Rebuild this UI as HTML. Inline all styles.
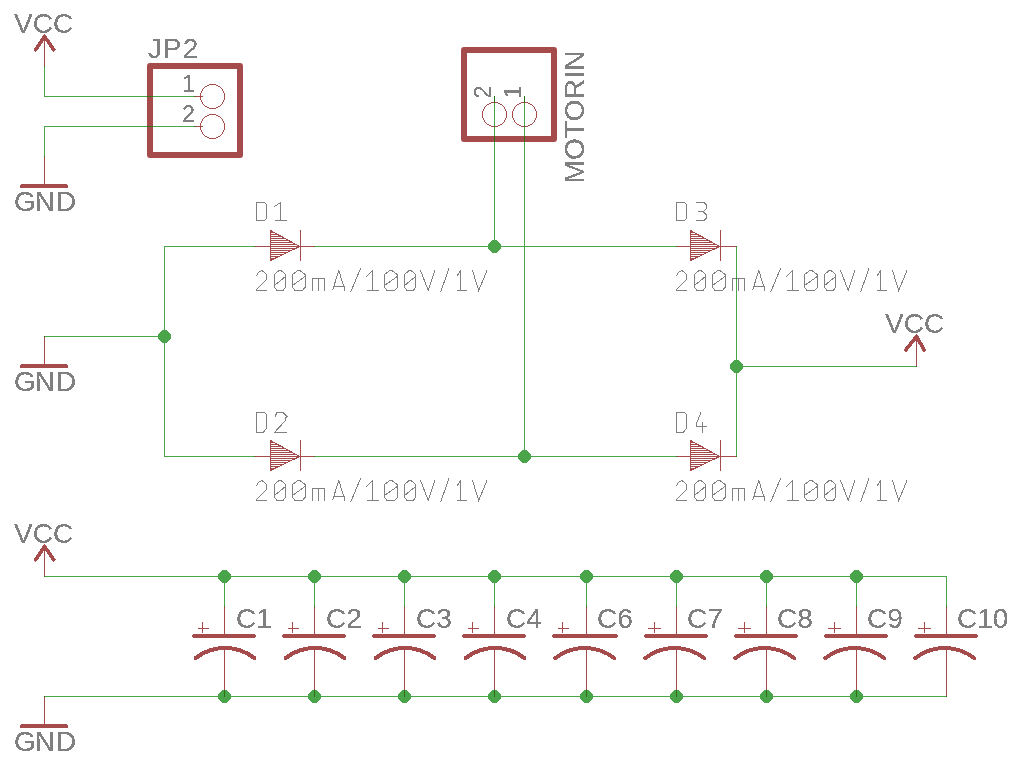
<!DOCTYPE html>
<html><head><meta charset="utf-8"><title>schematic</title>
<style>html,body{margin:0;padding:0;background:#fff;width:1020px;height:760px;overflow:hidden}
svg{display:block;font-family:"Liberation Sans",sans-serif}</style></head>
<body>
<svg width="1020" height="760" viewBox="0 0 1020 760">
<defs><filter id="th" filterUnits="userSpaceOnUse" x="0" y="0" width="1020" height="760"><feComponentTransfer><feFuncA type="discrete" tableValues="0 0 1 1 1"/></feComponentTransfer></filter></defs>
<rect width="1020" height="760" fill="#ffffff"/>
<g shape-rendering="crispEdges">
<rect x="194" y="96" width="9" height="1" fill="#a54b4b"/>
<rect x="194" y="126" width="9" height="1" fill="#a54b4b"/>
</g>
<rect x="44" y="34" width="1" height="33" fill="#a54b4b"/>
<polyline points="35.75,49.8 44.5,36.5 53.9,49.8" fill="none" stroke="#a54b4b" stroke-width="3.6" stroke-linecap="round" stroke-linejoin="round" shape-rendering="crispEdges"/>
<rect x="916" y="334" width="1" height="33" fill="#a54b4b"/>
<polyline points="905.8,349.8 916.5,336.5 924.1,349.8" fill="none" stroke="#a54b4b" stroke-width="3.6" stroke-linecap="round" stroke-linejoin="round" shape-rendering="crispEdges"/>
<rect x="44" y="544" width="1" height="33" fill="#a54b4b"/>
<polyline points="35.75,559.8 44.5,546.5 53.9,559.8" fill="none" stroke="#a54b4b" stroke-width="3.6" stroke-linecap="round" stroke-linejoin="round" shape-rendering="crispEdges"/>
<rect x="44" y="156" width="1" height="31" fill="#a54b4b"/>
<line x1="21.4" y1="186.1" x2="66.4" y2="186.1" stroke="#a54b4b" stroke-width="3.6" stroke-linecap="round" shape-rendering="crispEdges"/>
<rect x="44" y="336" width="1" height="31" fill="#a54b4b"/>
<line x1="21.4" y1="366.1" x2="66.4" y2="366.1" stroke="#a54b4b" stroke-width="3.6" stroke-linecap="round" shape-rendering="crispEdges"/>
<rect x="44" y="696" width="1" height="31" fill="#a54b4b"/>
<line x1="21.4" y1="726.1" x2="66.4" y2="726.1" stroke="#a54b4b" stroke-width="3.6" stroke-linecap="round" shape-rendering="crispEdges"/>
<rect x="150" y="66" width="90" height="89" fill="none" stroke="#a54b4b" stroke-width="6" stroke-linejoin="round"/>
<rect x="464" y="50" width="90" height="89" fill="none" stroke="#a54b4b" stroke-width="6" stroke-linejoin="round"/>
<circle cx="212.5" cy="96.5" r="12" fill="none" stroke="#a54b4b" stroke-width="1" shape-rendering="crispEdges"/>
<circle cx="212.5" cy="126.5" r="12" fill="none" stroke="#a54b4b" stroke-width="1" shape-rendering="crispEdges"/>
<circle cx="494.5" cy="114.5" r="12" fill="none" stroke="#a54b4b" stroke-width="1" shape-rendering="crispEdges"/>
<circle cx="524.5" cy="114.5" r="12" fill="none" stroke="#a54b4b" stroke-width="1" shape-rendering="crispEdges"/>
<g shape-rendering="crispEdges">
<rect x="494" y="96" width="1" height="7" fill="#a54b4b"/>
<rect x="524" y="96" width="1" height="7" fill="#a54b4b"/>
<rect x="254" y="246" width="16" height="1" fill="#a54b4b"/>
<rect x="301" y="246" width="14" height="1" fill="#a54b4b"/>
<rect x="300" y="230" width="1" height="31" fill="#a54b4b"/>
<rect x="270" y="230" width="1" height="31" fill="#a54b4b"/>
<rect x="270" y="232" width="4" height="1" fill="#a54b4b"/>
<rect x="270" y="234" width="8" height="1" fill="#a54b4b"/>
<rect x="270" y="236" width="12" height="1" fill="#a54b4b"/>
<rect x="270" y="238" width="15" height="1" fill="#a54b4b"/>
<rect x="270" y="240" width="19" height="1" fill="#a54b4b"/>
<rect x="270" y="242" width="23" height="1" fill="#a54b4b"/>
<rect x="270" y="244" width="27" height="1" fill="#a54b4b"/>
<rect x="270" y="246" width="29" height="1" fill="#a54b4b"/>
<rect x="270" y="248" width="25" height="1" fill="#a54b4b"/>
<rect x="270" y="250" width="21" height="1" fill="#a54b4b"/>
<rect x="270" y="252" width="17" height="1" fill="#a54b4b"/>
<rect x="270" y="254" width="14" height="1" fill="#a54b4b"/>
<rect x="270" y="256" width="10" height="1" fill="#a54b4b"/>
<rect x="270" y="258" width="6" height="1" fill="#a54b4b"/>
<rect x="270" y="260" width="2" height="1" fill="#a54b4b"/>
<polyline points="270.5,230.5 299.5,246.5 270.5,260.5" fill="none" stroke="#a54b4b" stroke-width="1.1"/>
<rect x="254" y="456" width="16" height="1" fill="#a54b4b"/>
<rect x="301" y="456" width="14" height="1" fill="#a54b4b"/>
<rect x="300" y="440" width="1" height="31" fill="#a54b4b"/>
<rect x="270" y="440" width="1" height="31" fill="#a54b4b"/>
<rect x="270" y="442" width="4" height="1" fill="#a54b4b"/>
<rect x="270" y="444" width="8" height="1" fill="#a54b4b"/>
<rect x="270" y="446" width="12" height="1" fill="#a54b4b"/>
<rect x="270" y="448" width="15" height="1" fill="#a54b4b"/>
<rect x="270" y="450" width="19" height="1" fill="#a54b4b"/>
<rect x="270" y="452" width="23" height="1" fill="#a54b4b"/>
<rect x="270" y="454" width="27" height="1" fill="#a54b4b"/>
<rect x="270" y="456" width="29" height="1" fill="#a54b4b"/>
<rect x="270" y="458" width="25" height="1" fill="#a54b4b"/>
<rect x="270" y="460" width="21" height="1" fill="#a54b4b"/>
<rect x="270" y="462" width="17" height="1" fill="#a54b4b"/>
<rect x="270" y="464" width="14" height="1" fill="#a54b4b"/>
<rect x="270" y="466" width="10" height="1" fill="#a54b4b"/>
<rect x="270" y="468" width="6" height="1" fill="#a54b4b"/>
<rect x="270" y="470" width="2" height="1" fill="#a54b4b"/>
<polyline points="270.5,440.5 299.5,456.5 270.5,470.5" fill="none" stroke="#a54b4b" stroke-width="1.1"/>
<rect x="676" y="246" width="14" height="1" fill="#a54b4b"/>
<rect x="721" y="246" width="16" height="1" fill="#a54b4b"/>
<rect x="720" y="230" width="1" height="31" fill="#a54b4b"/>
<rect x="690" y="230" width="1" height="31" fill="#a54b4b"/>
<rect x="690" y="232" width="4" height="1" fill="#a54b4b"/>
<rect x="690" y="234" width="8" height="1" fill="#a54b4b"/>
<rect x="690" y="236" width="12" height="1" fill="#a54b4b"/>
<rect x="690" y="238" width="15" height="1" fill="#a54b4b"/>
<rect x="690" y="240" width="19" height="1" fill="#a54b4b"/>
<rect x="690" y="242" width="23" height="1" fill="#a54b4b"/>
<rect x="690" y="244" width="27" height="1" fill="#a54b4b"/>
<rect x="690" y="246" width="29" height="1" fill="#a54b4b"/>
<rect x="690" y="248" width="25" height="1" fill="#a54b4b"/>
<rect x="690" y="250" width="21" height="1" fill="#a54b4b"/>
<rect x="690" y="252" width="17" height="1" fill="#a54b4b"/>
<rect x="690" y="254" width="14" height="1" fill="#a54b4b"/>
<rect x="690" y="256" width="10" height="1" fill="#a54b4b"/>
<rect x="690" y="258" width="6" height="1" fill="#a54b4b"/>
<rect x="690" y="260" width="2" height="1" fill="#a54b4b"/>
<polyline points="690.5,230.5 719.5,246.5 690.5,260.5" fill="none" stroke="#a54b4b" stroke-width="1.1"/>
<rect x="676" y="456" width="14" height="1" fill="#a54b4b"/>
<rect x="721" y="456" width="16" height="1" fill="#a54b4b"/>
<rect x="720" y="440" width="1" height="31" fill="#a54b4b"/>
<rect x="690" y="440" width="1" height="31" fill="#a54b4b"/>
<rect x="690" y="442" width="4" height="1" fill="#a54b4b"/>
<rect x="690" y="444" width="8" height="1" fill="#a54b4b"/>
<rect x="690" y="446" width="12" height="1" fill="#a54b4b"/>
<rect x="690" y="448" width="15" height="1" fill="#a54b4b"/>
<rect x="690" y="450" width="19" height="1" fill="#a54b4b"/>
<rect x="690" y="452" width="23" height="1" fill="#a54b4b"/>
<rect x="690" y="454" width="27" height="1" fill="#a54b4b"/>
<rect x="690" y="456" width="29" height="1" fill="#a54b4b"/>
<rect x="690" y="458" width="25" height="1" fill="#a54b4b"/>
<rect x="690" y="460" width="21" height="1" fill="#a54b4b"/>
<rect x="690" y="462" width="17" height="1" fill="#a54b4b"/>
<rect x="690" y="464" width="14" height="1" fill="#a54b4b"/>
<rect x="690" y="466" width="10" height="1" fill="#a54b4b"/>
<rect x="690" y="468" width="6" height="1" fill="#a54b4b"/>
<rect x="690" y="470" width="2" height="1" fill="#a54b4b"/>
<polyline points="690.5,440.5 719.5,456.5 690.5,470.5" fill="none" stroke="#a54b4b" stroke-width="1.1"/>
</g>
<rect x="224" y="606" width="1" height="31" fill="#a54b4b"/>
<line x1="193.8" y1="636" x2="254.0" y2="636" stroke="#a54b4b" stroke-width="3.6" stroke-linecap="round" shape-rendering="crispEdges"/>
<path d="M195.53,658.11 A48,48 0 0 1 254.47,658.11" fill="none" stroke="#a54b4b" stroke-width="4" stroke-linecap="round" shape-rendering="crispEdges"/>
<g shape-rendering="crispEdges">
<rect x="198" y="628" width="11" height="1" fill="#a54b4b"/>
<rect x="202" y="622" width="1" height="11" fill="#a54b4b"/>
</g>
<rect x="314" y="606" width="1" height="31" fill="#a54b4b"/>
<line x1="283.8" y1="636" x2="344.0" y2="636" stroke="#a54b4b" stroke-width="3.6" stroke-linecap="round" shape-rendering="crispEdges"/>
<path d="M285.53,658.11 A48,48 0 0 1 344.47,658.11" fill="none" stroke="#a54b4b" stroke-width="4" stroke-linecap="round" shape-rendering="crispEdges"/>
<g shape-rendering="crispEdges">
<rect x="288" y="628" width="11" height="1" fill="#a54b4b"/>
<rect x="292" y="622" width="1" height="11" fill="#a54b4b"/>
</g>
<rect x="404" y="606" width="1" height="31" fill="#a54b4b"/>
<line x1="373.8" y1="636" x2="434.0" y2="636" stroke="#a54b4b" stroke-width="3.6" stroke-linecap="round" shape-rendering="crispEdges"/>
<path d="M375.53,658.11 A48,48 0 0 1 434.47,658.11" fill="none" stroke="#a54b4b" stroke-width="4" stroke-linecap="round" shape-rendering="crispEdges"/>
<g shape-rendering="crispEdges">
<rect x="378" y="628" width="11" height="1" fill="#a54b4b"/>
<rect x="382" y="622" width="1" height="11" fill="#a54b4b"/>
</g>
<rect x="494" y="606" width="1" height="31" fill="#a54b4b"/>
<line x1="463.8" y1="636" x2="524.0" y2="636" stroke="#a54b4b" stroke-width="3.6" stroke-linecap="round" shape-rendering="crispEdges"/>
<path d="M465.53,658.11 A48,48 0 0 1 524.47,658.11" fill="none" stroke="#a54b4b" stroke-width="4" stroke-linecap="round" shape-rendering="crispEdges"/>
<g shape-rendering="crispEdges">
<rect x="468" y="628" width="11" height="1" fill="#a54b4b"/>
<rect x="472" y="622" width="1" height="11" fill="#a54b4b"/>
</g>
<rect x="586" y="606" width="1" height="31" fill="#a54b4b"/>
<line x1="553.8" y1="636" x2="616.0" y2="636" stroke="#a54b4b" stroke-width="3.6" stroke-linecap="round" shape-rendering="crispEdges"/>
<path d="M555.23,658.11 A48,48 0 0 1 614.17,658.11" fill="none" stroke="#a54b4b" stroke-width="4" stroke-linecap="round" shape-rendering="crispEdges"/>
<g shape-rendering="crispEdges">
<rect x="558" y="628" width="11" height="1" fill="#a54b4b"/>
<rect x="562" y="622" width="1" height="11" fill="#a54b4b"/>
</g>
<rect x="676" y="606" width="1" height="31" fill="#a54b4b"/>
<line x1="645.8" y1="636" x2="706.0" y2="636" stroke="#a54b4b" stroke-width="3.6" stroke-linecap="round" shape-rendering="crispEdges"/>
<path d="M645.23,658.11 A48,48 0 0 1 704.17,658.11" fill="none" stroke="#a54b4b" stroke-width="4" stroke-linecap="round" shape-rendering="crispEdges"/>
<g shape-rendering="crispEdges">
<rect x="648" y="628" width="13" height="1" fill="#a54b4b"/>
<rect x="654" y="622" width="1" height="11" fill="#a54b4b"/>
</g>
<rect x="766" y="606" width="1" height="31" fill="#a54b4b"/>
<line x1="735.8" y1="636" x2="796.0" y2="636" stroke="#a54b4b" stroke-width="3.6" stroke-linecap="round" shape-rendering="crispEdges"/>
<path d="M735.23,658.11 A48,48 0 0 1 794.17,658.11" fill="none" stroke="#a54b4b" stroke-width="4" stroke-linecap="round" shape-rendering="crispEdges"/>
<g shape-rendering="crispEdges">
<rect x="738" y="628" width="13" height="1" fill="#a54b4b"/>
<rect x="744" y="622" width="1" height="11" fill="#a54b4b"/>
</g>
<rect x="856" y="606" width="1" height="31" fill="#a54b4b"/>
<line x1="825.8" y1="636" x2="886.0" y2="636" stroke="#a54b4b" stroke-width="3.6" stroke-linecap="round" shape-rendering="crispEdges"/>
<path d="M825.23,658.11 A48,48 0 0 1 884.17,658.11" fill="none" stroke="#a54b4b" stroke-width="4" stroke-linecap="round" shape-rendering="crispEdges"/>
<g shape-rendering="crispEdges">
<rect x="828" y="628" width="13" height="1" fill="#a54b4b"/>
<rect x="834" y="622" width="1" height="11" fill="#a54b4b"/>
</g>
<rect x="946" y="606" width="1" height="31" fill="#a54b4b"/>
<line x1="915.8" y1="636" x2="976.0" y2="636" stroke="#a54b4b" stroke-width="3.6" stroke-linecap="round" shape-rendering="crispEdges"/>
<path d="M915.23,658.11 A48,48 0 0 1 974.17,658.11" fill="none" stroke="#a54b4b" stroke-width="4" stroke-linecap="round" shape-rendering="crispEdges"/>
<g shape-rendering="crispEdges">
<rect x="918" y="628" width="13" height="1" fill="#a54b4b"/>
<rect x="924" y="622" width="1" height="11" fill="#a54b4b"/>
</g>
<g shape-rendering="crispEdges">
<rect x="224" y="648" width="1" height="49" fill="#a54b4b"/>
<rect x="314" y="648" width="1" height="49" fill="#a54b4b"/>
<rect x="404" y="648" width="1" height="49" fill="#a54b4b"/>
<rect x="494" y="648" width="1" height="49" fill="#a54b4b"/>
<rect x="586" y="648" width="1" height="49" fill="#a54b4b"/>
<rect x="676" y="648" width="1" height="49" fill="#a54b4b"/>
<rect x="766" y="648" width="1" height="49" fill="#a54b4b"/>
<rect x="856" y="648" width="1" height="49" fill="#a54b4b"/>
<rect x="946" y="648" width="1" height="49" fill="#a54b4b"/>
</g>
<g fill="none" stroke="#808080" stroke-width="1" shape-rendering="crispEdges">
<polyline points="256.50,276.50 257.50,273.50 259.50,271.50 262.00,270.50 266.50,274.50 266.50,279.50 256.50,289.50 256.50,290.50 267.00,290.50"/>
<polyline points="279.00,270.50 281.00,270.50 285.50,274.50 285.50,287.50 283.00,290.50 277.00,290.50 274.50,287.50 274.50,274.50 279.00,270.50"/>
<polyline points="274.50,285.50 285.50,276.50"/>
<polyline points="297.75,270.50 299.75,270.50 305.00,274.50 305.00,287.50 302.50,290.50 295.00,290.50 292.50,287.50 292.50,274.50 297.75,270.50"/>
<polyline points="292.50,285.50 305.00,276.50"/>
<polyline points="312.50,290.50 312.50,278.50 324.50,278.50 324.50,290.50"/>
<polyline points="318.50,278.50 318.50,290.50"/>
<polyline points="332.50,290.50 338.80,270.50 345.00,290.50"/>
<polyline points="333.50,286.50 344.50,286.50"/>
<polyline points="350.50,292.50 360.50,268.50"/>
<polyline points="366.50,276.50 372.90,270.50 372.90,290.50"/>
<polyline points="366.50,290.50 379.00,290.50"/>
<polyline points="389.90,270.50 391.90,270.50 397.30,274.50 397.30,287.50 394.80,290.50 387.00,290.50 384.50,287.50 384.50,274.50 389.90,270.50"/>
<polyline points="384.50,285.50 397.30,276.50"/>
<polyline points="409.10,270.50 411.10,270.50 415.70,274.50 415.70,287.50 413.20,290.50 407.00,290.50 404.50,287.50 404.50,274.50 409.10,270.50"/>
<polyline points="404.50,285.50 415.70,276.50"/>
<polyline points="420.50,270.50 428.30,290.50 434.80,270.50"/>
<polyline points="440.50,292.50 448.90,268.50"/>
<polyline points="456.50,276.50 460.80,270.50 460.80,290.50"/>
<polyline points="456.50,290.50 467.10,290.50"/>
<polyline points="472.50,270.50 478.70,290.50 487.00,270.50"/>
<polyline points="676.50,276.50 677.50,273.50 679.50,271.50 682.00,270.50 686.50,274.50 686.50,279.50 676.50,289.50 676.50,290.50 687.00,290.50"/>
<polyline points="699.00,270.50 701.00,270.50 705.50,274.50 705.50,287.50 703.00,290.50 697.00,290.50 694.50,287.50 694.50,274.50 699.00,270.50"/>
<polyline points="694.50,285.50 705.50,276.50"/>
<polyline points="717.75,270.50 719.75,270.50 725.00,274.50 725.00,287.50 722.50,290.50 715.00,290.50 712.50,287.50 712.50,274.50 717.75,270.50"/>
<polyline points="712.50,285.50 725.00,276.50"/>
<polyline points="732.50,290.50 732.50,278.50 744.50,278.50 744.50,290.50"/>
<polyline points="738.50,278.50 738.50,290.50"/>
<polyline points="752.50,290.50 758.80,270.50 765.00,290.50"/>
<polyline points="753.50,286.50 764.50,286.50"/>
<polyline points="770.50,292.50 780.50,268.50"/>
<polyline points="786.50,276.50 792.90,270.50 792.90,290.50"/>
<polyline points="786.50,290.50 799.00,290.50"/>
<polyline points="809.90,270.50 811.90,270.50 817.30,274.50 817.30,287.50 814.80,290.50 807.00,290.50 804.50,287.50 804.50,274.50 809.90,270.50"/>
<polyline points="804.50,285.50 817.30,276.50"/>
<polyline points="829.10,270.50 831.10,270.50 835.70,274.50 835.70,287.50 833.20,290.50 827.00,290.50 824.50,287.50 824.50,274.50 829.10,270.50"/>
<polyline points="824.50,285.50 835.70,276.50"/>
<polyline points="840.50,270.50 848.30,290.50 854.80,270.50"/>
<polyline points="860.50,292.50 868.90,268.50"/>
<polyline points="876.50,276.50 880.80,270.50 880.80,290.50"/>
<polyline points="876.50,290.50 887.10,290.50"/>
<polyline points="892.50,270.50 898.70,290.50 907.00,270.50"/>
<polyline points="256.50,486.50 257.50,483.50 259.50,481.50 262.00,480.50 266.50,484.50 266.50,489.50 256.50,499.50 256.50,500.50 267.00,500.50"/>
<polyline points="279.00,480.50 281.00,480.50 285.50,484.50 285.50,497.50 283.00,500.50 277.00,500.50 274.50,497.50 274.50,484.50 279.00,480.50"/>
<polyline points="274.50,495.50 285.50,486.50"/>
<polyline points="297.75,480.50 299.75,480.50 305.00,484.50 305.00,497.50 302.50,500.50 295.00,500.50 292.50,497.50 292.50,484.50 297.75,480.50"/>
<polyline points="292.50,495.50 305.00,486.50"/>
<polyline points="312.50,500.50 312.50,488.50 324.50,488.50 324.50,500.50"/>
<polyline points="318.50,488.50 318.50,500.50"/>
<polyline points="332.50,500.50 338.80,480.50 345.00,500.50"/>
<polyline points="333.50,496.50 344.50,496.50"/>
<polyline points="350.50,502.50 360.50,478.50"/>
<polyline points="366.50,486.50 372.90,480.50 372.90,500.50"/>
<polyline points="366.50,500.50 379.00,500.50"/>
<polyline points="389.90,480.50 391.90,480.50 397.30,484.50 397.30,497.50 394.80,500.50 387.00,500.50 384.50,497.50 384.50,484.50 389.90,480.50"/>
<polyline points="384.50,495.50 397.30,486.50"/>
<polyline points="409.10,480.50 411.10,480.50 415.70,484.50 415.70,497.50 413.20,500.50 407.00,500.50 404.50,497.50 404.50,484.50 409.10,480.50"/>
<polyline points="404.50,495.50 415.70,486.50"/>
<polyline points="420.50,480.50 428.30,500.50 434.80,480.50"/>
<polyline points="440.50,502.50 448.90,478.50"/>
<polyline points="456.50,486.50 460.80,480.50 460.80,500.50"/>
<polyline points="456.50,500.50 467.10,500.50"/>
<polyline points="472.50,480.50 478.70,500.50 487.00,480.50"/>
<polyline points="676.50,486.50 677.50,483.50 679.50,481.50 682.00,480.50 686.50,484.50 686.50,489.50 676.50,499.50 676.50,500.50 687.00,500.50"/>
<polyline points="699.00,480.50 701.00,480.50 705.50,484.50 705.50,497.50 703.00,500.50 697.00,500.50 694.50,497.50 694.50,484.50 699.00,480.50"/>
<polyline points="694.50,495.50 705.50,486.50"/>
<polyline points="717.75,480.50 719.75,480.50 725.00,484.50 725.00,497.50 722.50,500.50 715.00,500.50 712.50,497.50 712.50,484.50 717.75,480.50"/>
<polyline points="712.50,495.50 725.00,486.50"/>
<polyline points="732.50,500.50 732.50,488.50 744.50,488.50 744.50,500.50"/>
<polyline points="738.50,488.50 738.50,500.50"/>
<polyline points="752.50,500.50 758.80,480.50 765.00,500.50"/>
<polyline points="753.50,496.50 764.50,496.50"/>
<polyline points="770.50,502.50 780.50,478.50"/>
<polyline points="786.50,486.50 792.90,480.50 792.90,500.50"/>
<polyline points="786.50,500.50 799.00,500.50"/>
<polyline points="809.90,480.50 811.90,480.50 817.30,484.50 817.30,497.50 814.80,500.50 807.00,500.50 804.50,497.50 804.50,484.50 809.90,480.50"/>
<polyline points="804.50,495.50 817.30,486.50"/>
<polyline points="829.10,480.50 831.10,480.50 835.70,484.50 835.70,497.50 833.20,500.50 827.00,500.50 824.50,497.50 824.50,484.50 829.10,480.50"/>
<polyline points="824.50,495.50 835.70,486.50"/>
<polyline points="840.50,480.50 848.30,500.50 854.80,480.50"/>
<polyline points="860.50,502.50 868.90,478.50"/>
<polyline points="876.50,486.50 880.80,480.50 880.80,500.50"/>
<polyline points="876.50,500.50 887.10,500.50"/>
<polyline points="892.50,480.50 898.70,500.50 907.00,480.50"/>
<polyline points="256.50,220.50 256.50,202.50 264.50,202.50 266.50,204.50 266.50,218.50 264.50,220.50 256.50,220.50"/>
<polyline points="274.50,206.50 280.50,202.50 280.50,220.50"/>
<polyline points="274.50,220.50 286.50,220.50"/>
<polyline points="256.50,432.50 256.50,412.50 264.50,412.50 266.50,414.50 266.50,428.50 263.00,432.50 256.50,432.50"/>
<polyline points="274.90,417.00 276.00,414.50 276.70,412.50 283.20,412.50 287.10,416.50 285.00,418.50 285.00,421.00 274.90,432.00 274.90,432.50 287.20,432.50"/>
<polyline points="676.50,220.50 676.50,202.50 684.50,202.50 686.50,204.50 686.50,218.50 684.50,220.50 676.50,220.50"/>
<polyline points="695.50,202.50 704.00,202.50 706.00,204.50 706.00,209.00 704.00,211.00 697.50,211.00"/>
<polyline points="702.50,211.00 706.00,214.50 706.00,218.50 704.00,220.50 695.50,220.50"/>
<polyline points="676.50,432.50 676.50,412.50 684.50,412.50 686.50,414.50 686.50,428.50 683.00,432.50 676.50,432.50"/>
<polyline points="701.00,412.50 696.80,422.90 696.80,426.00 707.20,426.00"/>
<polyline points="702.50,421.50 702.50,432.50"/>
</g>
<g font-family="Liberation Sans" filter="url(#th)">
<text x="14" y="33" font-size="28" fill="#808080" >VCC</text>
<text x="14" y="543" font-size="28" fill="#808080" >VCC</text>
<text x="885" y="333" font-size="28" fill="#808080" >VCC</text>
<text x="14" y="211" font-size="28" fill="#808080" >G<tspan dx="-1">N</tspan><tspan dx="1">D</tspan></text>
<text x="14" y="391" font-size="28" fill="#808080" >G<tspan dx="-1">N</tspan><tspan dx="1">D</tspan></text>
<text x="14" y="751" font-size="28" fill="#808080" >G<tspan dx="-1">N</tspan><tspan dx="1">D</tspan></text>
<text x="148" y="58" font-size="28" fill="#808080" letter-spacing="1">JP2</text>
<text x="182" y="92" font-size="23.3" fill="#808080" >1</text>
<text x="182" y="122" font-size="23.3" fill="#808080" >2</text>
<text transform="translate(584,183.5) rotate(-90)" font-size="28" letter-spacing="0.2" fill="#808080">MOTORIN</text>
<text transform="translate(491,98.5) rotate(-90)" font-size="23.3" fill="#808080">2</text>
<text transform="translate(521,98.5) rotate(-90)" font-size="23.3" fill="#808080">1</text>
<text x="236" y="628" font-size="28" fill="#808080" >C1</text>
<text x="326" y="628" font-size="28" fill="#808080" >C2</text>
<text x="416" y="628" font-size="28" fill="#808080" >C3</text>
<text x="506" y="628" font-size="28" fill="#808080" >C4</text>
<text x="597" y="628" font-size="28" fill="#808080" >C6</text>
<text x="687" y="628" font-size="28" fill="#808080" >C7</text>
<text x="777" y="628" font-size="28" fill="#808080" >C8</text>
<text x="867" y="628" font-size="28" fill="#808080" >C9</text>
<text x="957" y="628" font-size="28" fill="#808080" >C10</text>
</g>
<g opacity="0.71"><g shape-rendering="crispEdges">
<rect x="44" y="96" width="151" height="1" fill="#018001"/>
<rect x="44" y="126" width="151" height="1" fill="#018001"/>
<rect x="44" y="66" width="1" height="31" fill="#018001"/>
<rect x="44" y="126" width="1" height="31" fill="#018001"/>
<rect x="164" y="246" width="91" height="1" fill="#018001"/>
<rect x="314" y="246" width="363" height="1" fill="#018001"/>
<rect x="164" y="246" width="1" height="211" fill="#018001"/>
<rect x="44" y="336" width="121" height="1" fill="#018001"/>
<rect x="494" y="96" width="1" height="151" fill="#018001"/>
<rect x="524" y="96" width="1" height="361" fill="#018001"/>
<rect x="164" y="456" width="91" height="1" fill="#018001"/>
<rect x="314" y="456" width="363" height="1" fill="#018001"/>
<rect x="736" y="246" width="1" height="211" fill="#018001"/>
<rect x="736" y="366" width="181" height="1" fill="#018001"/>
<rect x="44" y="576" width="903" height="1" fill="#018001"/>
<rect x="44" y="696" width="903" height="1" fill="#018001"/>
<rect x="224" y="576" width="1" height="31" fill="#018001"/>
<rect x="314" y="576" width="1" height="31" fill="#018001"/>
<rect x="404" y="576" width="1" height="31" fill="#018001"/>
<rect x="494" y="576" width="1" height="31" fill="#018001"/>
<rect x="586" y="576" width="1" height="31" fill="#018001"/>
<rect x="676" y="576" width="1" height="31" fill="#018001"/>
<rect x="766" y="576" width="1" height="31" fill="#018001"/>
<rect x="856" y="576" width="1" height="31" fill="#018001"/>
<rect x="946" y="576" width="1" height="31" fill="#018001"/>
<polygon points="162.1,330 166.9,330 171,334.1 171,338.9 166.9,343 162.1,343 158,338.9 158,334.1" fill="#018001"/>
<polygon points="492.1,240 496.9,240 501,244.1 501,248.9 496.9,253 492.1,253 488,248.9 488,244.1" fill="#018001"/>
<polygon points="522.1,450 526.9,450 531,454.1 531,458.9 526.9,463 522.1,463 518,458.9 518,454.1" fill="#018001"/>
<polygon points="734.1,360 738.9,360 743,364.1 743,368.9 738.9,373 734.1,373 730,368.9 730,364.1" fill="#018001"/>
<polygon points="222.1,570 226.9,570 231,574.1 231,578.9 226.9,583 222.1,583 218,578.9 218,574.1" fill="#018001"/>
<polygon points="222.1,690 226.9,690 231,694.1 231,698.9 226.9,703 222.1,703 218,698.9 218,694.1" fill="#018001"/>
<polygon points="312.1,570 316.9,570 321,574.1 321,578.9 316.9,583 312.1,583 308,578.9 308,574.1" fill="#018001"/>
<polygon points="312.1,690 316.9,690 321,694.1 321,698.9 316.9,703 312.1,703 308,698.9 308,694.1" fill="#018001"/>
<polygon points="402.1,570 406.9,570 411,574.1 411,578.9 406.9,583 402.1,583 398,578.9 398,574.1" fill="#018001"/>
<polygon points="402.1,690 406.9,690 411,694.1 411,698.9 406.9,703 402.1,703 398,698.9 398,694.1" fill="#018001"/>
<polygon points="492.1,570 496.9,570 501,574.1 501,578.9 496.9,583 492.1,583 488,578.9 488,574.1" fill="#018001"/>
<polygon points="492.1,690 496.9,690 501,694.1 501,698.9 496.9,703 492.1,703 488,698.9 488,694.1" fill="#018001"/>
<polygon points="584.1,570 588.9,570 593,574.1 593,578.9 588.9,583 584.1,583 580,578.9 580,574.1" fill="#018001"/>
<polygon points="584.1,690 588.9,690 593,694.1 593,698.9 588.9,703 584.1,703 580,698.9 580,694.1" fill="#018001"/>
<polygon points="674.1,570 678.9,570 683,574.1 683,578.9 678.9,583 674.1,583 670,578.9 670,574.1" fill="#018001"/>
<polygon points="674.1,690 678.9,690 683,694.1 683,698.9 678.9,703 674.1,703 670,698.9 670,694.1" fill="#018001"/>
<polygon points="764.1,570 768.9,570 773,574.1 773,578.9 768.9,583 764.1,583 760,578.9 760,574.1" fill="#018001"/>
<polygon points="764.1,690 768.9,690 773,694.1 773,698.9 768.9,703 764.1,703 760,698.9 760,694.1" fill="#018001"/>
<polygon points="854.1,570 858.9,570 863,574.1 863,578.9 858.9,583 854.1,583 850,578.9 850,574.1" fill="#018001"/>
<polygon points="854.1,690 858.9,690 863,694.1 863,698.9 858.9,703 854.1,703 850,698.9 850,694.1" fill="#018001"/>
</g></g>
</svg>
</body></html>
